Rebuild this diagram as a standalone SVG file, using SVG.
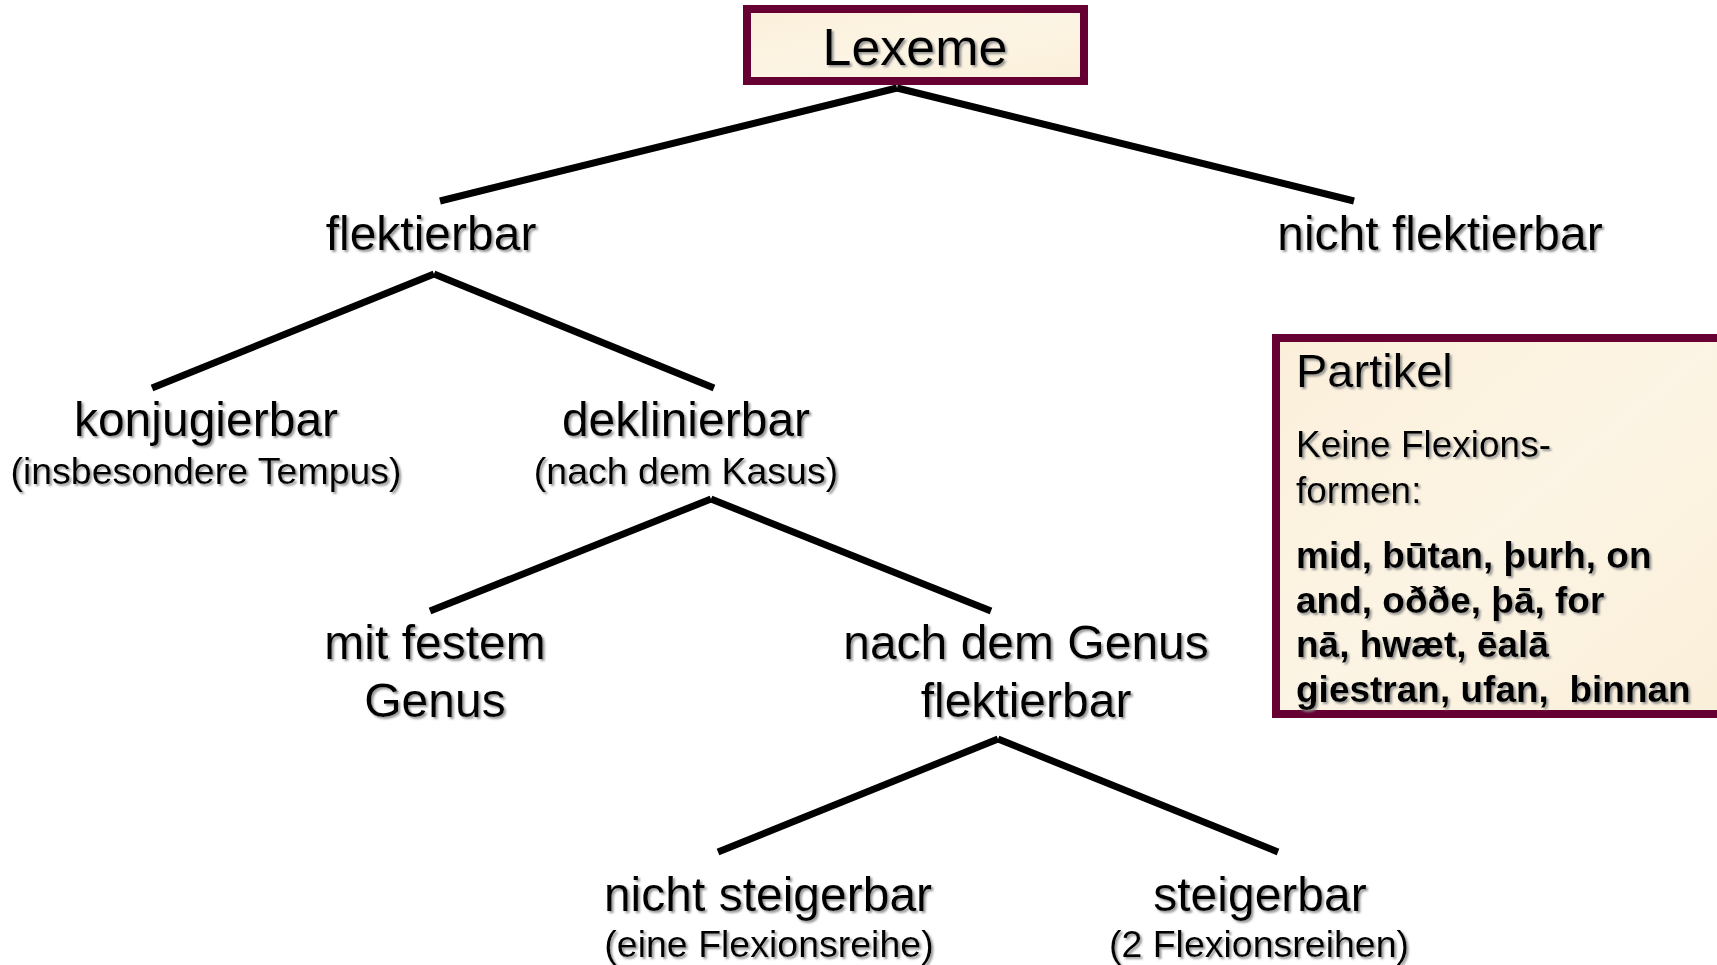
<svg xmlns="http://www.w3.org/2000/svg" width="1717" height="965" viewBox="0 0 1717 965">
<defs>
<filter id="sh" x="-5%" y="-20%" width="115%" height="150%">
<feDropShadow dx="2" dy="2" stdDeviation="0.8" flood-color="#8a8a8a" flood-opacity="0.9"/>
</filter>
<linearGradient id="parch" x1="0" y1="0" x2="1" y2="1">
<stop offset="0" stop-color="#FBEFDA"/>
<stop offset="0.5" stop-color="#FCF4E4"/>
<stop offset="1" stop-color="#FAEFD9"/>
</linearGradient>
<style>
text{font-family:"Liberation Sans",Arial,sans-serif;fill:#000;filter:url(#sh)}
.big{font-size:48px;text-anchor:middle}
.sub{font-size:37.5px;text-anchor:middle}
.box{fill:url(#parch);stroke:#660033;stroke-width:8}
.con line{stroke:#000;stroke-width:7}
.p1{font-size:47px}
.p2{font-size:37px}
.p3{font-size:37px;font-weight:bold}
</style>
</defs>
<rect width="1717" height="965" fill="#fff"/>
<g class="con">
<line x1="897" y1="88" x2="440" y2="201"/>
<line x1="897" y1="88" x2="1354" y2="201"/>
<line x1="434" y1="274" x2="152" y2="388"/>
<line x1="434" y1="274" x2="714" y2="388"/>
<line x1="711" y1="499" x2="430" y2="611"/>
<line x1="711" y1="499" x2="991" y2="611"/>
<line x1="998" y1="739" x2="718" y2="852"/>
<line x1="998" y1="739" x2="1278" y2="852"/>
</g>
<g id="lexeme">
<rect class="box" x="747" y="9" width="337" height="72"/>
<text x="915" y="65" style="font-size:52px;text-anchor:middle">Lexeme</text>
</g>
<g id="flektierbar"><text class="big" x="431" y="250">flektierbar</text></g>
<g id="nicht-flektierbar"><text class="big" x="1440" y="250">nicht flektierbar</text></g>
<g id="konjugierbar">
<text class="big" x="206" y="436">konjugierbar</text>
<text class="sub" x="206" y="484">(insbesondere Tempus)</text>
</g>
<g id="deklinierbar">
<text class="big" x="686" y="436">deklinierbar</text>
<text class="sub" x="686" y="484">(nach dem Kasus)</text>
</g>
<g id="mit-festem-genus">
<text class="big" x="435" y="659">mit festem</text>
<text class="big" x="435" y="717">Genus</text>
</g>
<g id="nach-dem-genus">
<text class="big" x="1026" y="659">nach dem Genus</text>
<text class="big" x="1026" y="717">flektierbar</text>
</g>
<g id="nicht-steigerbar">
<text class="big" x="768" y="911">nicht steigerbar</text>
<text class="sub" x="769" y="957">(eine Flexionsreihe)</text>
</g>
<g id="steigerbar">
<text class="big" x="1260" y="911">steigerbar</text>
<text class="sub" x="1259" y="957">(2 Flexionsreihen)</text>
</g>
<g id="partikel">
<rect class="box" x="1276" y="338" width="445" height="376"/>
<text class="p1" x="1296" y="387">Partikel</text>
<text class="p2" x="1296" y="457">Keine Flexions-</text>
<text class="p2" x="1296" y="503">formen:</text>
<text class="p3" x="1296" y="568">mid, būtan, þurh, on</text>
<text class="p3" x="1296" y="613">and, oððe, þā, for</text>
<text class="p3" x="1296" y="657">nā, hwæt, ēalā</text>
<text class="p3" x="1296" y="702" xml:space="preserve">giestran, ufan,  binnan</text>
</g>
</svg>
